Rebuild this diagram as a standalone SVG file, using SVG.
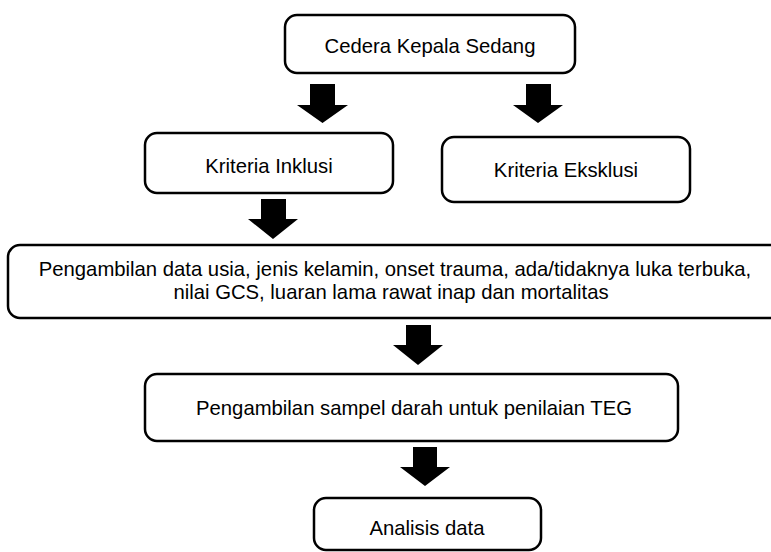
<svg xmlns="http://www.w3.org/2000/svg" width="771" height="552" viewBox="0 0 771 552">
<style>
.box{fill:#fff;stroke:#000;stroke-width:2.5}
.t{font-family:"Liberation Sans",Arial,sans-serif;font-size:20.3px;fill:#000;text-anchor:middle}
.arr{fill:#000;stroke:none}
</style>
<rect width="771" height="552" fill="#fff"/>
<g id="n1"><rect class="box" x="285" y="15" width="290" height="58" rx="12"/><text class="t" x="430" y="53">Cedera Kepala Sedang</text></g>
<g id="n2"><rect class="box" x="145" y="133" width="248" height="60" rx="12"/><text class="t" x="269" y="173">Kriteria Inklusi</text></g>
<g id="n3"><rect class="box" x="442" y="137" width="248" height="65" rx="12"/><text class="t" x="566" y="177">Kriteria Eksklusi</text></g>
<g id="n4"><rect class="box" x="8" y="245" width="790" height="73" rx="12"/><text class="t" x="395" y="276">Pengambilan data usia, jenis kelamin, onset trauma, ada/tidaknya luka terbuka,</text><text class="t" x="391" y="299">nilai GCS, luaran lama rawat inap dan mortalitas</text></g>
<g id="n5"><rect class="box" x="145" y="374" width="533" height="67" rx="12"/><text class="t" x="414" y="415">Pengambilan sampel darah untuk penilaian TEG</text></g>
<g id="n6"><rect class="box" x="314" y="498" width="227" height="52" rx="12"/><text class="t" x="427" y="535">Analisis data</text></g>
<g id="connectors">
<polygon class="arr" points="310,84 335,84 335,105 348,105 322.5,123 297,105 310,105"/>
<polygon class="arr" points="526,84 551,84 551,105 563,105 538,123 513,105 526,105"/>
<polygon class="arr" points="261,199 286,199 286,219 298,219 273,239 248,219 261,219"/>
<polygon class="arr" points="406,325 431,325 431,345 443,345 418,365 393,345 406,345"/>
<polygon class="arr" points="413,447 437,447 437,467 450,467 425,486 400,467 413,467"/>
</g>
</svg>
